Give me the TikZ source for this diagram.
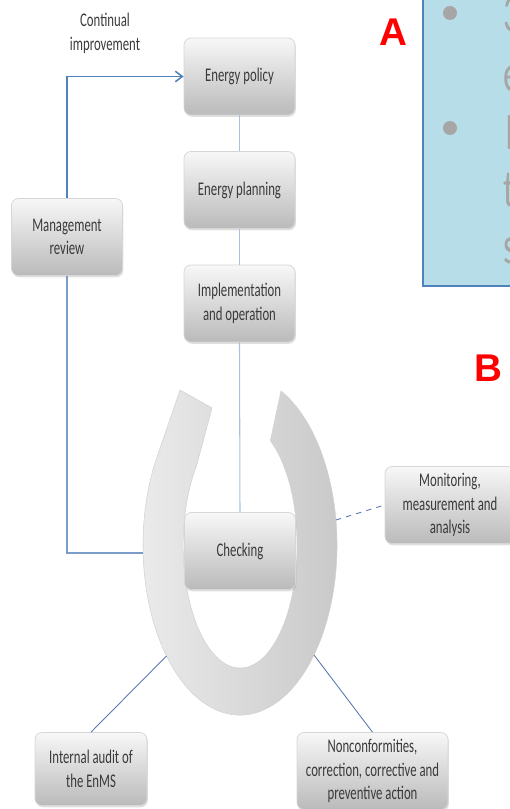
\documentclass[tikz,border=0pt]{standalone}
\usepackage{fontspec}
\usepackage{tikz}
\usepackage{xcolor}
\usetikzlibrary{arrows.meta, positioning, shadows}
\newfontfamily\boxfont[FakeStretch=0.66]{Carlito}
\newfontfamily\markfont{Liberation Sans}
\definecolor{EnmsBlue}{HTML}{4F81BD}
\definecolor{EnmsFeed}{HTML}{7B9CCB}
\definecolor{EnmsPale}{HTML}{A9C1DE}
\definecolor{EnmsLink}{HTML}{5A78B0}
\definecolor{EnmsText}{HTML}{3A3A3A}
\definecolor{EnmsGrey}{HTML}{A6A6A6}
\definecolor{PanelFill}{HTML}{B7DDE8}
\definecolor{PanelEdge}{HTML}{4F81BD}
\definecolor{MarkRed}{HTML}{FF0000}
\tikzset{
    % Node styles - soft grey boxes
    stepbox/.style={
        rectangle,
        rounded corners=4pt,
        draw=black!16,
        top color=black!3,
        bottom color=black!27,
        minimum width=2.22cm,
        minimum height=1.54cm,
        align=center,
        text=EnmsText,
        font=\boxfont\fontsize{11}{13.5}\selectfont,
        drop shadow={shadow xshift=0.5pt, shadow yshift=-1pt, opacity=0.25}
    },
    notetext/.style={
        align=center,
        text=EnmsText,
        font=\boxfont\fontsize{11}{13.5}\selectfont
    },
    marklabel/.style={
        inner sep=0pt,
        text=MarkRed,
        font=\markfont\bfseries\fontsize{22}{22}\selectfont
    },
    panelglyph/.style={
        anchor=base west,
        inner sep=0pt,
        text=EnmsGrey,
        font=\boxfont\fontsize{30}{30}\selectfont
    },
    % Ring style
    ringband/.style={
        left color=black!8,
        right color=black!22,
        draw=black!18,
        line width=0.3pt
    },
    % Line styles
    feedline/.style={
        draw=EnmsFeed,
        line width=0.8pt
    },
    feedarrow/.style={
        -{Straight Barb[length=4pt,width=6pt]},
        draw=EnmsBlue,
        line width=0.9pt
    },
    paleline/.style={
        draw=EnmsPale,
        line width=0.6pt
    },
    linkline/.style={
        draw=EnmsLink,
        line width=0.5pt
    },
    dashlink/.style={
        linkline,
        dashed
    }
}
\begin{document}
\begin{tikzpicture}
    \useasboundingbox (0,0) rectangle (10.2,16.18);
    \clip (0,0) rectangle (10.2,16.18);

    % Side panel, cut off at the edge
    \filldraw[fill=PanelFill, draw=PanelEdge, line width=1pt] (8.46,10.46) rectangle (10.8,16.8);
    \fill[EnmsGrey] (9.0,15.92) circle (0.14);
    \fill[EnmsGrey] (9.0,13.62) circle (0.14);
    \node[panelglyph] (g1) at (10.06,15.54) {3};
    \node[panelglyph] (g2) at (10.06,14.34) {e};
    \node[panelglyph] (g3) at (10.10,13.18) {I};
    \node[panelglyph] (g4) at (10.06,12.04) {t};
    \node[panelglyph] (g5) at (10.06,10.90) {s};
    \node[marklabel] (markA) at (7.86,15.54) {A};
    \node[marklabel] (markB) at (9.76,8.82) {B};

    % Cycle ring with arrow head
    \coordinate (ringC) at (4.80,5.28);
    \shade[ringband] (5.62,8.36)
        arc[start angle=65, end angle=-210, x radius=1.94, y radius=3.40]
        -- (3.60,8.38) -- (4.24,8.02) -- (3.93,6.86)
        arc[start angle=140, end angle=418, x radius=1.14, y radius=2.46]
        -- cycle;
    \coordinate (ringW) at (2.86,5.12);
    \coordinate (ringE) at (6.72,5.78);
    \coordinate (ringSW) at (3.33,3.06);
    \coordinate (ringSE) at (6.28,3.08);

    % Main steps
    \node[stepbox] (policy) at (4.79,14.65) {Energy policy};
    \node[stepbox] (planning) at (4.79,12.38) {Energy planning};
    \node[stepbox] (implement) at (4.79,10.11) {Implementation\\and operation};
    \node[stepbox] (checking) at (4.80,5.16) {Checking};
    \node[stepbox] (review) at (1.34,11.44) {Management\\review};

    % Checking sub-steps
    \node[stepbox,minimum width=2.6cm] (monitor) at (9.0,6.08) {Monitoring,\\measurement and\\analysis};
    \node[stepbox,minimum width=2.24cm,minimum height=1.46cm] (audit) at (1.82,0.80) {Internal audit of\\the EnMS};
    \node[stepbox,minimum width=3.02cm] (noncon) at (7.45,0.76) {Nonconformities,\\correction, corrective and\\preventive action};

    \node[notetext] (improve) at (2.10,15.52) {Continual\\improvement};

    \draw[paleline] (policy.south) -- (planning.north);
    \draw[paleline] (planning.south) -- (implement.north);
    \draw[paleline] (implement.south) -- (checking.north);

    \draw[feedline] (ringW) -| (review.south);
    \draw[feedarrow] (review.north) |- (policy.west);

    \draw[dashlink] (ringE) -- (monitor.west);
    \draw[linkline] (audit.north) -- (ringSW);
    \draw[linkline] (noncon.north) -- (ringSE);
\end{tikzpicture}
\end{document}
